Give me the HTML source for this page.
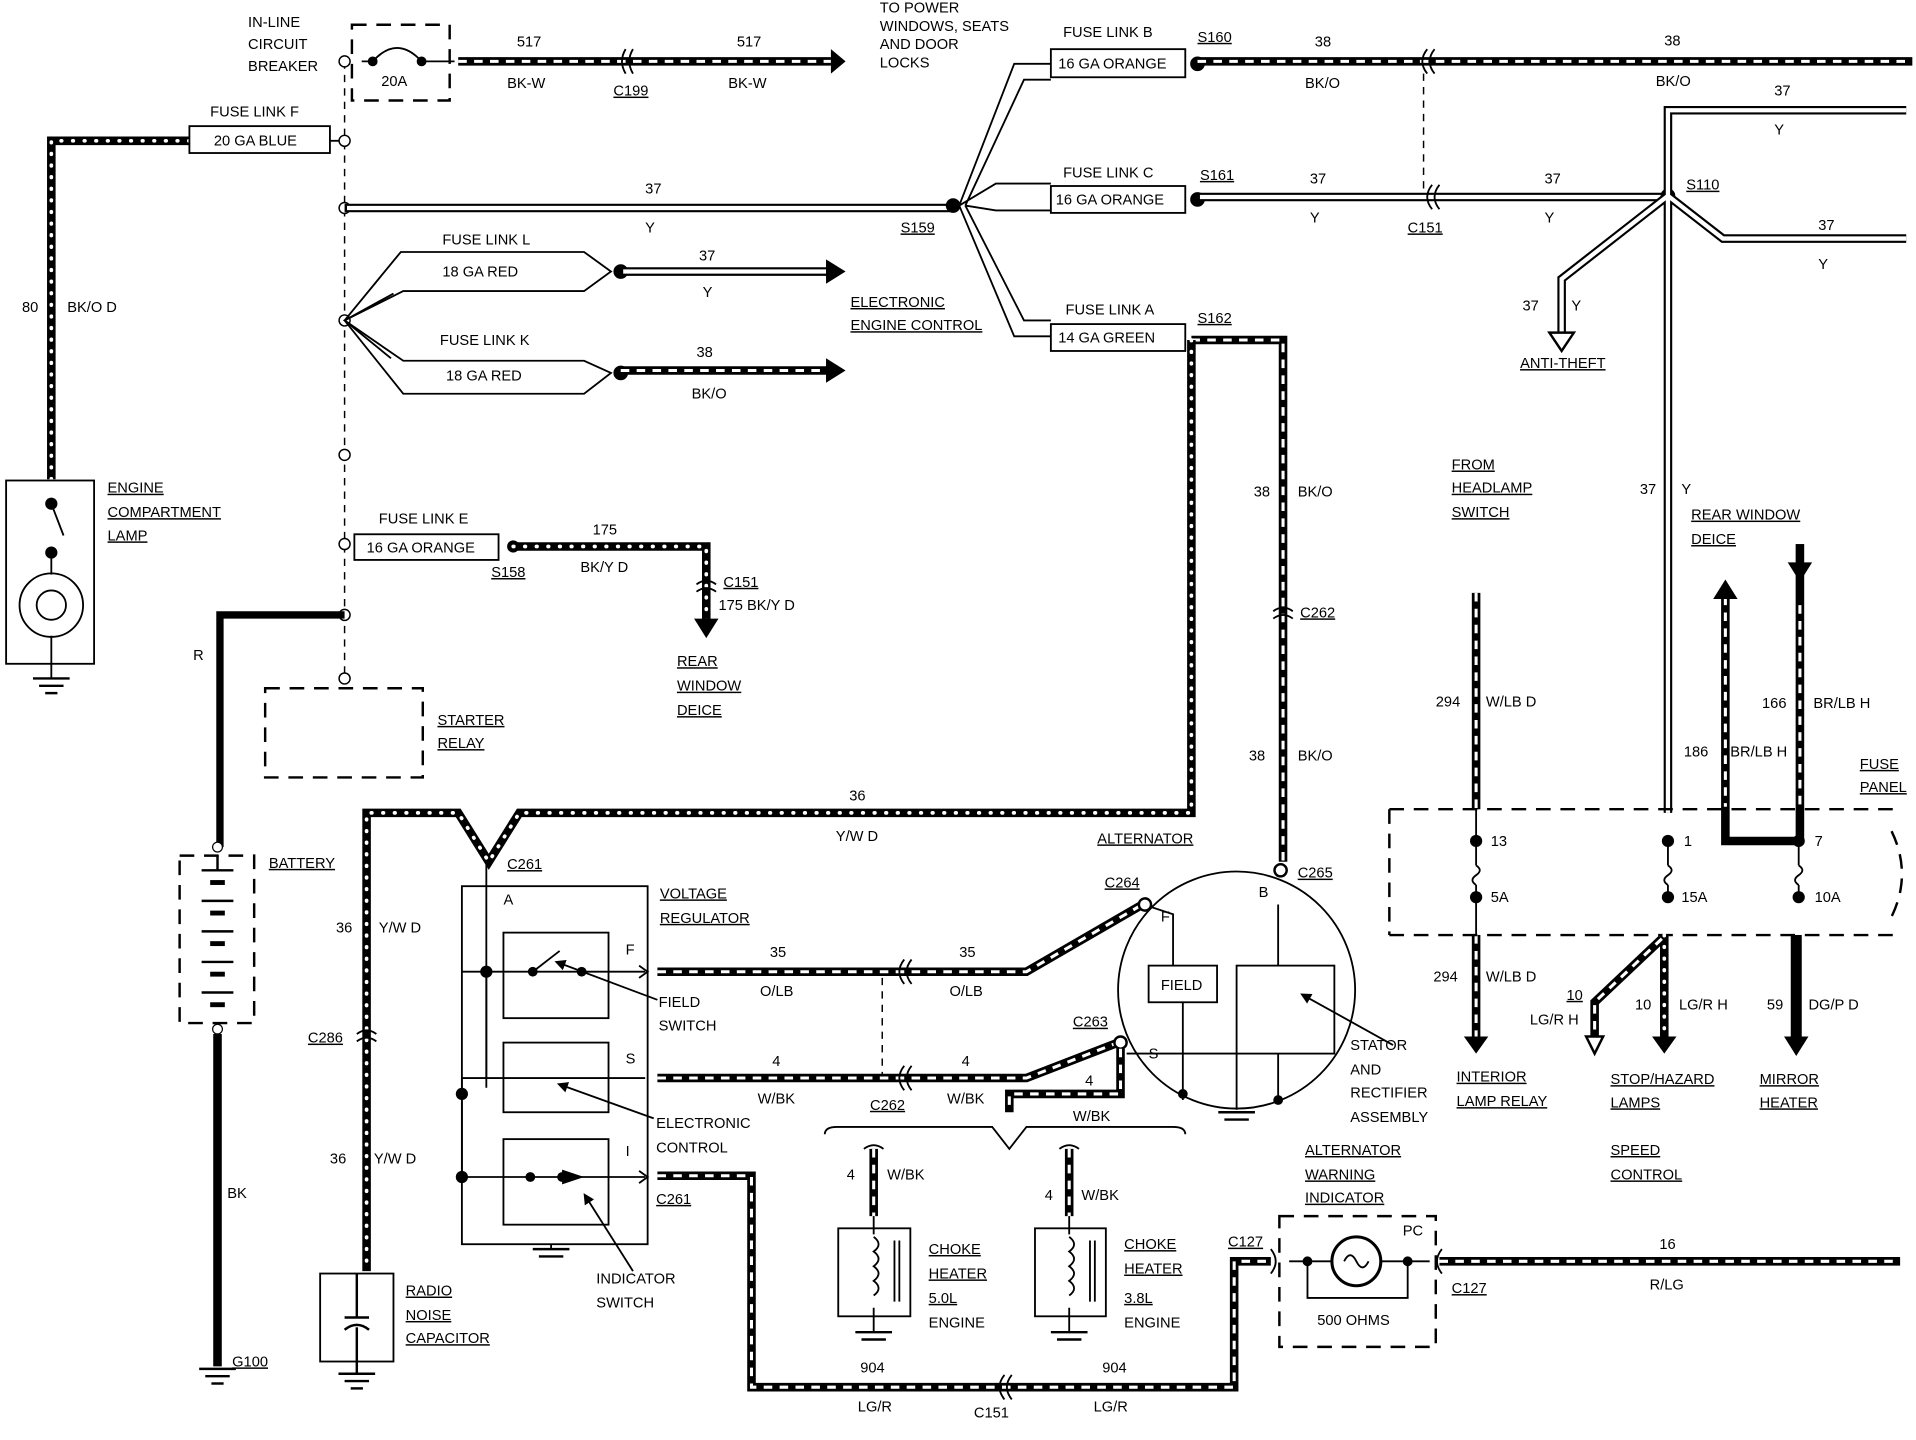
<!DOCTYPE html>
<html><head><meta charset="utf-8"><style>
html,body{margin:0;padding:0;background:#fff;}
svg{display:block}
text{font-family:"Liberation Sans",sans-serif;font-size:12px;fill:#000;}
.u{text-decoration:underline}
.blk{stroke:#000;stroke-width:7;fill:none}
.st{stroke:#fff;stroke-width:2.5;stroke-dasharray:7 6;fill:none}
.dt{stroke:#fff;stroke-width:3;stroke-dasharray:0.5 9;stroke-linecap:round;fill:none}
.dbl{stroke:#000;stroke-width:7;fill:none}
.dbi{stroke:#fff;stroke-width:3.5;fill:none}
.th{stroke:#000;stroke-width:1.5;fill:none}
.ds{stroke:#000;stroke-width:2;fill:none;stroke-dasharray:12 8}
.dl{stroke:#000;stroke-width:1.2;fill:none;stroke-dasharray:6 5}
</style></head><body>
<svg width="1916" height="1440" viewBox="0 0 1568 1178" xmlns="http://www.w3.org/2000/svg">
<defs>
<marker id="ar" markerWidth="6" markerHeight="6" refX="3" refY="3" orient="auto" markerUnits="strokeWidth"><path d="M0,0 L6,3 L0,6 z" fill="#000"/></marker>
</defs>
<rect width="1568" height="1178" fill="#fff"/>

<path class="blk" d="M42,392 V115 H155"/><path class="dt" d="M42,392 V115 H155"/>
<rect x="155" y="103" width="115" height="22" class="th"/>
<text x="175" y="119">20 GA BLUE</text><text x="172" y="95">FUSE LINK F</text>
<line x1="270" y1="115" x2="282" y2="115" class="th"/>
<text x="18" y="255">80</text><text x="55" y="255">BK/O D</text>

<line x1="282" y1="50" x2="282" y2="556" class="dl"/>
<g fill="#fff" stroke="#000" stroke-width="1.2">
<circle cx="282" cy="50" r="4.5"/><circle cx="282" cy="115" r="4.5"/><circle cx="282" cy="170" r="4.5"/><circle cx="282" cy="262" r="4.5"/><circle cx="282" cy="372" r="4.5"/><circle cx="282" cy="445" r="4.5"/><circle cx="282" cy="503" r="4.5"/><circle cx="282" cy="555" r="4.5"/></g>
<text x="203" y="22" font-size="11">IN-LINE</text><text x="203" y="40">CIRCUIT</text><text x="203" y="58">BREAKER</text>

<rect x="288" y="20" width="80" height="62" class="ds"/>
<path d="M296,50 H305 Q325,28 345,50 H372" class="th" stroke-width="2"/>
<circle cx="305" cy="50" r="4" fill="#000"/><circle cx="345" cy="50" r="4" fill="#000"/>
<text x="312" y="70">20A</text>
<path class="blk" d="M375,50 H680"/><path class="st" d="M375,50 H680"/>
<path d="M680,40 L692,50 L680,60 z"/>
<path d="M512,40 Q506,50 512,60 M518,40 Q512,50 518,60" class="th" stroke-width="2"/>
<text x="423" y="38">517</text><text x="603" y="38">517</text>
<text x="415" y="72">BK-W</text><text x="596" y="72">BK-W</text><text x="502" y="78" class="u">C199</text>
<text x="720" y="10">TO POWER</text><text x="720" y="25">WINDOWS, SEATS</text><text x="720" y="40">AND DOOR</text><text x="720" y="55">LOCKS</text>

<path class="dbl" d="M282,170 H780"/><path class="dbi" d="M284,170 H778"/>
<circle cx="780" cy="168" r="6" fill="#000"/>
<text x="528" y="158">37</text><text x="528" y="190">Y</text><text x="737" y="190" class="u">S159</text>

<path d="M282,262 L328,206 H478 L500,222 L478,238 H330 L282,262 L330,295 H478 L500,305 L478,322 H330 Z" class="th"/>
<path d="M282,262 L320,293 M282,262 L322,240" class="th"/>
<text x="362" y="200">FUSE LINK L</text><text x="362" y="226">18 GA RED</text>
<text x="360" y="282">FUSE LINK K</text><text x="365" y="311">18 GA RED</text>
<circle cx="508" cy="222" r="6" fill="#000"/><circle cx="508" cy="305" r="6" fill="#000"/>
<path class="dbl" d="M508,222 H678"/><path class="dbi" d="M510,222 H676"/>
<path d="M676,212 L692,222 L676,232 z"/>
<path class="blk" d="M508,303 H678"/><path class="st" d="M508,303 H678"/>
<path d="M676,293 L692,303 L676,313 z"/>
<text x="572" y="213">37</text><text x="575" y="243">Y</text><text x="570" y="292">38</text><text x="566" y="326">BK/O</text>
<text x="696" y="251" class="u">ELECTRONIC</text><text x="696" y="270" class="u">ENGINE CONTROL</text>

<rect x="290" y="437" width="118" height="21" class="th"/>
<text x="300" y="452">16 GA ORANGE</text><text x="310" y="428">FUSE LINK E</text>
<circle cx="420" cy="447" r="5" fill="#000"/>
<path class="blk" d="M420,447 H578 V508"/><path class="dt" d="M420,447 H578 V508"/>
<path d="M568,506 L578,522 L588,506 z"/>
<path d="M570,478 Q578,472 586,478 M570,484 Q578,478 586,484" class="th" stroke-width="2"/>
<text x="485" y="437">175</text><text x="475" y="468">BK/Y D</text><text x="402" y="472" class="u">S158</text>
<text x="592" y="480" class="u">C151</text><text x="588" y="499">175  BK/Y D</text>
<text x="554" y="545" class="u">REAR</text><text x="554" y="565" class="u">WINDOW</text><text x="554" y="585" class="u">DEICE</text>

<path d="M282,503 H180 V693" stroke="#000" stroke-width="6" fill="none"/>
<text x="158" y="540">R</text>
<rect x="217" y="563" width="129" height="73" class="ds"/>
<text x="358" y="593" class="u">STARTER</text><text x="358" y="612" class="u">RELAY</text>

<rect x="147" y="700" width="61" height="137" class="ds"/>
<circle cx="178" cy="693" r="4" fill="#fff" stroke="#000"/>
<g stroke="#000" stroke-width="2">
<line x1="165" y1="712" x2="191" y2="712"/><line x1="172" y1="722" x2="184" y2="722" stroke-width="4"/>
<line x1="165" y1="737" x2="191" y2="737"/><line x1="172" y1="747" x2="184" y2="747" stroke-width="4"/>
<line x1="165" y1="762" x2="191" y2="762"/><line x1="172" y1="772" x2="184" y2="772" stroke-width="4"/>
<line x1="165" y1="787" x2="191" y2="787"/><line x1="172" y1="797" x2="184" y2="797" stroke-width="4"/>
<line x1="165" y1="812" x2="191" y2="812"/><line x1="172" y1="822" x2="184" y2="822" stroke-width="4"/>
<line x1="178" y1="700" x2="178" y2="712"/></g>
<text x="220" y="710" class="u">BATTERY</text>
<circle cx="178" cy="842" r="4" fill="#fff" stroke="#000"/>
<path d="M178,846 V1118" stroke="#000" stroke-width="7"/>
<text x="186" y="980">BK</text><text x="190" y="1118" class="u">G100</text>
<g stroke="#000" stroke-width="2"><line x1="163" y1="1120" x2="193" y2="1120"/><line x1="168" y1="1126" x2="188" y2="1126"/><line x1="173" y1="1132" x2="183" y2="1132"/></g>

<rect x="5" y="393" width="72" height="150" class="th" stroke-width="2"/>
<circle cx="42" cy="412" r="5" fill="#000"/><circle cx="42" cy="452" r="5" fill="#000"/>
<path d="M42,412 L52,438" class="th" stroke-width="2"/>
<circle cx="42" cy="495" r="26" class="th" stroke-width="3"/><circle cx="42" cy="495" r="12" class="th" stroke-width="2"/>
<line x1="42" y1="452" x2="42" y2="470" class="th" stroke-width="2"/>
<line x1="42" y1="520" x2="42" y2="555" class="th" stroke-width="3"/>
<g stroke="#000" stroke-width="2"><line x1="27" y1="555" x2="57" y2="555"/><line x1="32" y1="561" x2="52" y2="561"/><line x1="37" y1="567" x2="47" y2="567"/></g>
<text x="88" y="403" class="u">ENGINE</text><text x="88" y="423" class="u">COMPARTMENT</text><text x="88" y="442" class="u">LAMP</text>

<path class="blk" d="M975,278 H1050 V705"/><path class="st" d="M975,278 H1050 V705"/>
<path class="blk" d="M975,278 V665 H425 L400,705 L375,665 H300 V1040"/><path class="dt" d="M975,278 V665 H425 L400,705 L375,665 H300 V1040"/>
<path d="M1042,500 Q1050,494 1058,500 M1042,506 Q1050,500 1058,506" class="th" stroke-width="2"/>
<path d="M292,846 Q300,840 308,846 M292,852 Q300,846 308,852" class="th" stroke-width="2"/>
<text x="1026" y="406">38</text><text x="1062" y="406">BK/O</text><text x="1064" y="505" class="u">C262</text>
<text x="1022" y="622">38</text><text x="1062" y="622">BK/O</text>
<text x="695" y="655">36</text><text x="684" y="688">Y/W D</text>
<text x="275" y="763">36</text><text x="310" y="763">Y/W D</text><text x="252" y="853" class="u">C286</text>
<text x="270" y="952">36</text><text x="306" y="952">Y/W D</text>
<text x="415" y="711" class="u">C261</text>

<rect x="262" y="1042" width="60" height="72" class="th" stroke-width="2"/>
<g stroke="#000" stroke-width="2"><line x1="292" y1="1042" x2="292" y2="1078"/><line x1="282" y1="1078" x2="302" y2="1078"/><path d="M282,1088 Q292,1080 302,1088" fill="none"/><line x1="292" y1="1086" x2="292" y2="1124"/>
<line x1="277" y1="1124" x2="307" y2="1124"/><line x1="282" y1="1130" x2="302" y2="1130"/><line x1="287" y1="1136" x2="297" y2="1136"/></g>
<text x="332" y="1060" class="u">RADIO</text><text x="332" y="1080" class="u">NOISE</text><text x="332" y="1099" class="u">CAPACITOR</text>

<rect x="378" y="725" width="152" height="293" class="th" stroke-width="2"/>
<line x1="398" y1="705" x2="398" y2="890" class="th"/><text x="412" y="740">A</text>
<rect x="412" y="763" width="86" height="70" class="th"/>
<rect x="412" y="853" width="86" height="57" class="th"/>
<rect x="412" y="932" width="86" height="70" class="th"/>
<line x1="378" y1="795" x2="528" y2="795" class="th"/><path d="M523,790 L530,795 L523,800" class="th"/>
<line x1="378" y1="882" x2="528" y2="882" class="th"/>
<line x1="378" y1="963" x2="528" y2="963" class="th"/><path d="M523,958 L530,963 L523,968" class="th"/>
<g fill="#000"><circle cx="398" cy="795" r="5"/><circle cx="436" cy="795" r="4"/><circle cx="476" cy="795" r="4"/><circle cx="378" cy="895" r="5"/><circle cx="378" cy="963" r="5"/><circle cx="434" cy="963" r="4"/><circle cx="460" cy="963" r="4"/><path d="M460,957 L478,963 L460,969z"/></g>
<line x1="436" y1="795" x2="458" y2="778" class="th" stroke-width="2"/>
<line x1="398" y1="795" x2="398" y2="882" class="th"/>
<line x1="378" y1="882" x2="378" y2="963" class="th"/>
<text x="512" y="781">F</text><text x="512" y="870">S</text><text x="512" y="946">I</text>
<line x1="451" y1="1018" x2="451" y2="1022" class="th" stroke-width="2"/>
<g stroke="#000" stroke-width="2"><line x1="436" y1="1022" x2="466" y2="1022"/><line x1="441" y1="1028" x2="461" y2="1028"/></g>
<text x="540" y="735" class="u">VOLTAGE</text><text x="540" y="755" class="u">REGULATOR</text>
<path d="M538,818 L458,788" class="th" marker-end="url(#ar)"/><text x="539" y="824">FIELD</text><text x="539" y="843">SWITCH</text>
<path d="M535,915 L460,888" class="th" marker-end="url(#ar)"/><text x="537" y="923">ELECTRONIC</text><text x="537" y="943">CONTROL</text>
<path d="M518,1040 L480,980" class="th" marker-end="url(#ar)"/><text x="488" y="1050">INDICATOR</text><text x="488" y="1070">SWITCH</text>

<path class="blk" d="M538,795 H840 L935,740"/><path class="st" d="M538,795 H840 L935,740"/>
<circle cx="937" cy="740" r="5" fill="#fff" stroke="#000" stroke-width="2"/>
<path d="M740,785 Q732,795 740,805 M746,785 Q738,795 746,805" class="th" stroke-width="2"/>
<text x="630" y="783">35</text><text x="785" y="783">35</text><text x="622" y="815">O/LB</text><text x="777" y="815">O/LB</text>
<text x="904" y="726" class="u">C264</text>
<line x1="722" y1="800" x2="722" y2="882" class="dl"/>
<path class="blk" d="M538,882 H840 L915,853"/><path class="st" d="M538,882 H840 L915,853"/>
<circle cx="917" cy="853" r="5" fill="#fff" stroke="#000" stroke-width="2"/>
<path d="M740,872 Q732,882 740,892 M746,872 Q738,882 746,892" class="th" stroke-width="2"/>
<text x="632" y="872">4</text><text x="787" y="872">4</text><text x="620" y="903">W/BK</text><text x="775" y="903">W/BK</text>
<text x="712" y="908" class="u">C262</text><text x="878" y="840" class="u">C263</text>
<path class="blk" d="M917,858 V895 H826 V910"/><path class="st" d="M917,858 V895 H826 V910"/>
<text x="888" y="888">4</text><text x="878" y="917">W/BK</text>
<path d="M675,928 Q675,922 685,922 H812 L826,940 L840,922 H960 Q970,922 970,928" class="th"/>

<path class="blk" d="M715,940 V995"/><path class="st" d="M715,940 V995"/>
<path class="blk" d="M875,940 V995"/><path class="st" d="M875,940 V995"/>
<path d="M707,940 Q715,934 723,940 M867,940 Q875,934 883,940" class="th" stroke-width="2"/>
<rect x="686" y="1005" width="59" height="72" class="th" stroke-width="2.5"/>
<rect x="847" y="1005" width="58" height="72" class="th" stroke-width="2.5"/>
<path d="M715,995 V1010 M715,1070 V1090 M875,995 V1010 M875,1070 V1090" class="th" stroke-width="2"/>
<path d="M715,1012 q8,6 0,12 q8,6 0,12 q8,6 0,12 q8,6 0,12 M875,1012 q8,6 0,12 q8,6 0,12 q8,6 0,12 q8,6 0,12" class="th"/>
<path d="M732,1015 V1065 M736,1015 V1065 M892,1015 V1065 M896,1015 V1065" class="th"/>
<g stroke="#000" stroke-width="2"><line x1="700" y1="1090" x2="730" y2="1090"/><line x1="705" y1="1096" x2="725" y2="1096"/><line x1="860" y1="1090" x2="890" y2="1090"/><line x1="865" y1="1096" x2="885" y2="1096"/></g>
<text x="693" y="965">4</text><text x="726" y="965">W/BK</text><text x="855" y="982">4</text><text x="885" y="982">W/BK</text>
<text x="760" y="1026" class="u">CHOKE</text><text x="760" y="1046" class="u">HEATER</text><text x="760" y="1066" class="u">5.0L</text><text x="760" y="1086">ENGINE</text>
<text x="920" y="1022" class="u">CHOKE</text><text x="920" y="1042" class="u">HEATER</text><text x="920" y="1066" class="u">3.8L</text><text x="920" y="1086">ENGINE</text>

<path class="blk" d="M538,962 H615 V1135 H1010 V1032 H1040"/><path class="st" d="M538,962 H615 V1135 H1010 V1032 H1040"/>
<path d="M822,1125 Q814,1135 822,1145 M828,1125 Q820,1135 828,1145" class="th" stroke-width="2"/>
<path d="M1040,1022 Q1048,1032 1040,1042" class="th" stroke-width="2"/>
<text x="537" y="985" class="u">C261</text>
<text x="704" y="1123">904</text><text x="902" y="1123">904</text><text x="702" y="1155">LG/R</text><text x="895" y="1155">LG/R</text><text x="797" y="1160">C151</text>
<text x="1005" y="1020" class="u">C127</text>

<rect x="1047" y="995" width="128" height="107" class="ds"/>
<text x="1068" y="945" class="u">ALTERNATOR</text><text x="1068" y="965" class="u">WARNING</text><text x="1068" y="984" class="u">INDICATOR</text>
<text x="1148" y="1011">PC</text>
<line x1="1055" y1="1032" x2="1170" y2="1032" class="th"/>
<circle cx="1110" cy="1032" r="20" fill="#fff" stroke="#000" stroke-width="2.5"/>
<path d="M1100,1032 q5,-10 10,0 q5,10 10,0" class="th" stroke-width="2"/>
<circle cx="1070" cy="1032" r="4" fill="#000"/><circle cx="1152" cy="1032" r="4" fill="#000"/>
<path d="M1070,1032 V1062 H1152 V1032" class="th"/>
<text x="1078" y="1084">500 OHMS</text>
<path class="blk" d="M1178,1032 H1555"/><path class="st" d="M1178,1032 H1555"/>
<path d="M1180,1022 Q1172,1032 1180,1042" class="th" stroke-width="2"/>
<text x="1188" y="1058" class="u">C127</text><text x="1358" y="1022">16</text><text x="1350" y="1055">R/LG</text>

<circle cx="1012" cy="810" r="97" class="th" stroke-width="2.5"/>
<text x="898" y="690" class="u">ALTERNATOR</text>
<circle cx="1048" cy="712" r="5" fill="#fff" stroke="#000" stroke-width="2"/>
<text x="1062" y="718" class="u">C265</text>
<text x="1030" y="734">B</text><text x="950" y="754">F</text><text x="940" y="866">S</text>
<path d="M942,742 L960,748 V790 M1046,740 V790 M968,820 V900 M1046,862 V900" class="th"/>
<path d="M922,862 H1012" class="th"/>
<rect x="940" y="790" width="56" height="30" class="th" stroke-width="2"/><text x="950" y="810">FIELD</text>
<rect x="1012" y="790" width="80" height="72" class="th" stroke-width="2"/>
<circle cx="968" cy="895" r="4" fill="#000"/><circle cx="1046" cy="900" r="4" fill="#000"/>
<line x1="1012" y1="862" x2="1012" y2="908" class="th"/>
<g stroke="#000" stroke-width="2"><line x1="997" y1="910" x2="1027" y2="910"/><line x1="1002" y1="916" x2="1022" y2="916"/></g>
<path d="M1140,855 L1068,815" class="th" marker-end="url(#ar)"/>
<text x="1105" y="859">STATOR</text><text x="1105" y="879">AND</text><text x="1105" y="898">RECTIFIER</text><text x="1105" y="918">ASSEMBLY</text>

<path d="M785,168 L830,52 H860 M785,168 L815,150 H860 M785,168 L830,275 H860 M790,168 L838,65 H860 M790,168 L815,172 H860 M790,168 L838,262 H860" class="th"/>
<rect x="860" y="40" width="110" height="23" class="th"/><text x="866" y="56">16 GA ORANGE</text><text x="870" y="30">FUSE LINK B</text>
<rect x="860" y="152" width="110" height="22" class="th"/><text x="864" y="167">16 GA ORANGE</text><text x="870" y="145">FUSE LINK C</text>
<rect x="860" y="265" width="110" height="22" class="th"/><text x="866" y="280">14 GA GREEN</text><text x="872" y="257">FUSE LINK A</text>
<circle cx="980" cy="52" r="6" fill="#000"/><circle cx="980" cy="163" r="6" fill="#000"/>
<text x="980" y="34" class="u">S160</text><text x="982" y="147" class="u">S161</text><text x="980" y="264" class="u">S162</text>
<path class="blk" d="M980,50 H1565"/><path class="st" d="M980,50 H1565"/>
<path d="M1168,40 Q1160,50 1168,60 M1174,40 Q1166,50 1174,60" class="th" stroke-width="2"/>
<text x="1076" y="38">38</text><text x="1068" y="72">BK/O</text><text x="1362" y="37">38</text><text x="1355" y="70">BK/O</text>
<line x1="1165" y1="60" x2="1165" y2="158" class="dl"/>
<path class="dbl" d="M980,161 H1365"/><path class="dbi" d="M982,161 H1363"/>
<path d="M1172,151 Q1164,161 1172,171 M1178,151 Q1170,161 1178,171" class="th" stroke-width="2"/>
<text x="1072" y="150">37</text><text x="1072" y="182">Y</text><text x="1264" y="150">37</text><text x="1264" y="182">Y</text><text x="1152" y="190" class="u">C151</text>
<circle cx="1365" cy="160" r="6" fill="#000"/><text x="1380" y="155" class="u">S110</text>
<path class="dbl" d="M1365,160 V665 M1365,160 V90 H1560 M1365,160 L1410,195 H1560 M1365,160 L1278,228 V275"/>
<path class="dbi" d="M1365,160 V665 M1365,160 V90 H1560 M1365,160 L1410,195 H1560 M1365,160 L1278,228 V275"/>
<path d="M1268,272 L1278,287 L1288,272 z" fill="#fff" stroke="#000" stroke-width="2"/>
<text x="1452" y="78">37</text><text x="1452" y="110">Y</text><text x="1488" y="188">37</text><text x="1488" y="220">Y</text>
<text x="1246" y="254">37</text><text x="1286" y="254">Y</text><text x="1244" y="301" class="u">ANTI-THEFT</text>
<text x="1342" y="404">37</text><text x="1376" y="404">Y</text>
<text x="1188" y="384" class="u">FROM</text><text x="1188" y="403" class="u">HEADLAMP</text><text x="1188" y="423" class="u">SWITCH</text>
<text x="1384" y="425" class="u">REAR WINDOW</text><text x="1384" y="445" class="u">DEICE</text>

<path class="blk" d="M1208,485 V662"/><path class="st" d="M1208,485 V662"/>
<path class="blk" d="M1208,765 V850"/><path class="st" d="M1208,765 V850"/>
<path d="M1198,848 L1208,862 L1218,848 z"/>
<text x="1175" y="578">294</text><text x="1216" y="578">W/LB D</text><text x="1173" y="803">294</text><text x="1216" y="803">W/LB D</text>
<text x="1192" y="885" class="u">INTERIOR</text><text x="1192" y="905" class="u">LAMP RELAY</text>
<path class="blk" d="M1412,488 V688 H1472"/><path class="st" d="M1412,488 V660"/>
<path d="M1402,490 L1412,474 L1422,490 z"/>
<path class="blk" d="M1473,462 V688"/><path class="st" d="M1473,495 V660"/>
<path d="M1463,460 L1473,476 L1483,460 z"/><line x1="1473" y1="445" x2="1473" y2="462" stroke="#000" stroke-width="7"/>
<text x="1378" y="619">186</text><text x="1416" y="619">BR/LB H</text><text x="1442" y="579">166</text><text x="1484" y="579">BR/LB H</text>
<path d="M1137,662 H1550 M1137,662 V765 M1137,765 H1550 M1548,680 Q1565,715 1548,750" class="ds"/>
<text x="1522" y="629" class="u">FUSE</text><text x="1522" y="648" class="u">PANEL</text>
<g class="th" stroke-width="2"><path d="M1208,662 V708 M1208,708 q6,4 0,8 q-6,4 0,8 M1208,724 V765"/>
<path d="M1365,690 V708 M1365,708 q6,4 0,8 q-6,4 0,8 M1365,724 V734"/>
<path d="M1472,690 V708 M1472,708 q6,4 0,8 q-6,4 0,8 M1472,724 V734"/></g>
<g fill="#000"><circle cx="1208" cy="688" r="5"/><circle cx="1208" cy="734" r="5"/><circle cx="1365" cy="688" r="5"/><circle cx="1365" cy="734" r="5"/><circle cx="1472" cy="688" r="5"/><circle cx="1472" cy="734" r="5"/></g>
<text x="1220" y="692">13</text><text x="1220" y="738">5A</text><text x="1378" y="692">1</text><text x="1376" y="738">15A</text><text x="1485" y="692">7</text><text x="1485" y="738">10A</text>
<path class="blk" d="M1362,765 V850"/><path class="dt" d="M1362,765 V850"/>
<path d="M1352,848 L1362,862 L1372,848 z"/>
<path class="blk" d="M1360,768 L1305,820 V850"/><path class="st" d="M1360,768 L1305,820 V850"/>
<path d="M1298,848 L1305,862 L1312,848 z" fill="#fff" stroke="#000" stroke-width="2"/>
<path d="M1470,765 V850" stroke="#000" stroke-width="9"/>
<path d="M1460,848 L1470,864 L1480,848 z"/>
<text x="1282" y="818" class="u">10</text><text x="1252" y="838">LG/R H</text><text x="1338" y="826">10</text><text x="1374" y="826">LG/R H</text>
<text x="1446" y="826">59</text><text x="1480" y="826">DG/P D</text>
<text x="1318" y="887" class="u">STOP/HAZARD</text><text x="1318" y="906" class="u">LAMPS</text>
<text x="1318" y="945" class="u">SPEED</text><text x="1318" y="965" class="u">CONTROL</text>
<text x="1440" y="887" class="u">MIRROR</text><text x="1440" y="906" class="u">HEATER</text>
</svg>
</body></html>
